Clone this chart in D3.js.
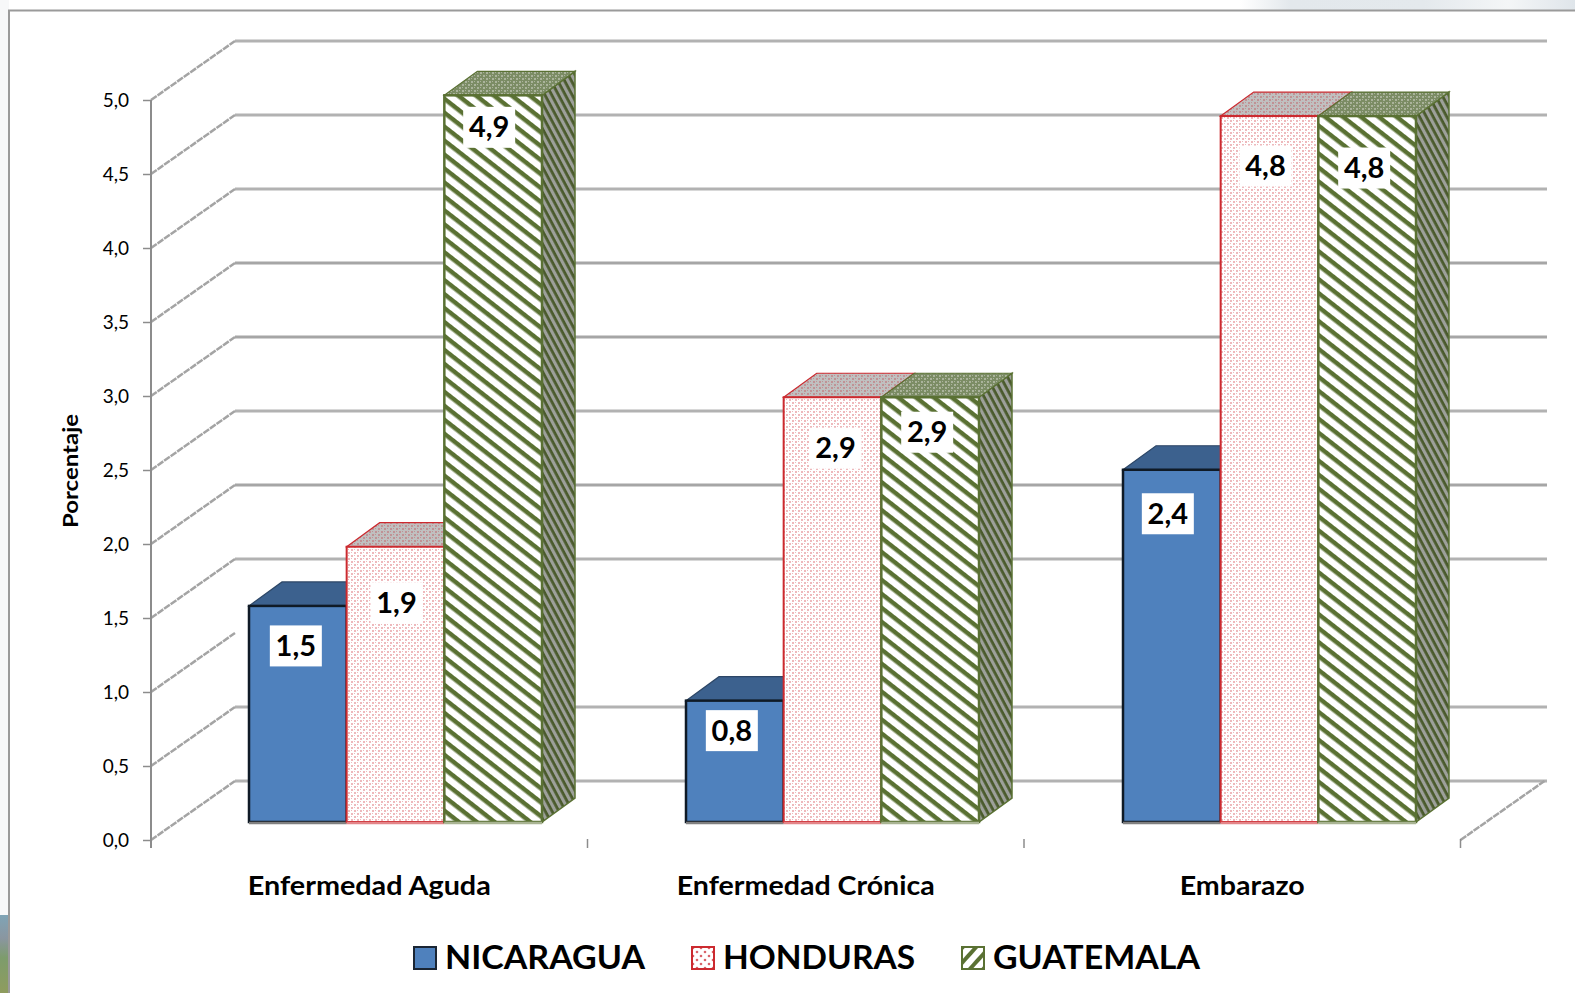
<!DOCTYPE html>
<html><head><meta charset="utf-8">
<script src="https://cdn.jsdelivr.net/npm/d3@7/dist/d3.min.js"></script>
<style>html,body{margin:0;background:#fff;overflow:hidden}svg{display:block}text{font-family:Lato,"Open Sans",sans-serif;fill:#000}</style>
</head><body><script>
const categories = ["Enfermedad Aguda","Enfermedad Crónica","Embarazo"];
const seriesNames = ["NICARAGUA","HONDURAS","GUATEMALA"];
const nicaragua = [1.46,0.82,2.38];
const honduras = [1.86,2.87,4.77];
const guatemala = [4.91,2.87,4.77];
const yTicks = [0,0.5,1,1.5,2,2.5,3,3.5,4,4.5,5];
const wallLevels = [0,0.5,1.5,2,2.5,3,3.5,4,4.5,5];
const axisTitle = "Porcentaje";

const W=1575,H=993;
const svg=d3.select("body").append("svg").attr("width",W).attr("height",H);
const defs=svg.append("defs");

function dots(id,bg,dot,op){
  const p=defs.append("pattern").attr("id",id).attr("patternUnits","userSpaceOnUse").attr("width",6).attr("height",6);
  p.append("rect").attr("width",6).attr("height",6).attr("fill",bg);
  [[0,0],[3,3]].forEach(([a,b])=>p.append("rect").attr("x",a).attr("y",b).attr("width",2).attr("height",2).attr("fill",dot).attr("opacity",op));
  [[3,0],[0,3]].forEach(([a,b])=>p.append("rect").attr("x",a).attr("y",b).attr("width",1).attr("height",1).attr("fill",dot).attr("opacity",op));
}
dots("redFace","#fff","#d9646a",.45);
dots("redTop","#c0c0c0","#c0636a",.5);
function stripes(id,bg,fg,size,w,skew){
  const p=defs.append("pattern").attr("id",id).attr("patternUnits","userSpaceOnUse").attr("width",size).attr("height",size)
    .attr("patternTransform",`rotate(${skew})`);
  p.append("rect").attr("width",size).attr("height",size).attr("fill",bg);
  p.append("rect").attr("width",size).attr("height",w).attr("fill",fg);
}
stripes("greenFace","#fff","#5a7133",11,4.5,38);
stripes("greenSide","#9da09a","#4a5a2c",6,2.8,62);
dots("greenTop","#7b8c64","#b9c0ad",.75);
stripes("greenSwatch","#fff","#5a7133",10,4,-48);
const rp=defs.append("pattern").attr("id","redSwatch").attr("patternUnits","userSpaceOnUse").attr("width",8).attr("height",8);
rp.append("rect").attr("width",8).attr("height",8).attr("fill","#fff");
rp.append("circle").attr("cx",2).attr("cy",2).attr("r",1.3).attr("fill","#d9646a");
rp.append("circle").attr("cx",6).attr("cy",6).attr("r",1.3).attr("fill","#d9646a");
const bgG=defs.append("linearGradient").attr("id","sky").attr("x1",0).attr("x2",1);
[[0,"#ffffff"],[.15,"#e3e8ec"],[.55,"#e4e9ed"],[.8,"#f4f6f7"],[1,"#dfe5ea"]].forEach(([o,c])=>bgG.append("stop").attr("offset",o).attr("stop-color",c));
const ph=defs.append("linearGradient").attr("id","photo").attr("x1",0).attr("x2",0).attr("y1",0).attr("y2",1);
[[0,"#7fa4b6"],[.3,"#8a96a0"],[.55,"#7d9c6c"],[1,"#8f9c5e"]].forEach(([o,c])=>ph.append("stop").attr("offset",o).attr("stop-color",c));

// backdrop behind the chart frame
svg.append("rect").attr("x",1240).attr("y",0).attr("width",335).attr("height",10).attr("fill","url(#sky)");
svg.append("rect").attr("x",0).attr("y",0).attr("width",9).attr("height",915).attr("fill","#f7f8f9");
svg.append("rect").attr("x",0).attr("y",915).attr("width",9).attr("height",78).attr("fill","url(#photo)");
svg.append("path").attr("d",`M9 ${H}V10.5H${W}`).attr("fill","none").attr("stroke","#9a9a9a").attr("stroke-width",2);

// scales
const axisX=151, rightX=1460.5, y0=840, y5=100;
const depthX=84, depthY=-59;
const y=d3.scaleLinear().domain([0,5]).range([y0,y5]);
const band=d3.scaleBand().domain(categories).range([axisX,rightX]);
const barBase=822;
const dpx=33, dpy=-24;
const groups=d3.scaleBand().domain(categories).range([249,249+3*437]);
const sub=d3.scaleBand().domain(seriesNames).range([0,293]);
const hgt=v=>y0-y(v);

// walls
const wall=svg.append("g");
wall.selectAll("line.grid").data(wallLevels).join("line").attr("class","grid")
  .attr("x1",axisX+depthX).attr("x2",rightX+depthX+2.5)
  .attr("y1",d=>y(d)+depthY).attr("y2",d=>y(d)+depthY)
  .attr("stroke",d=>[2,3,3.5].includes(d)?"#a6a6a6":"#b2b2b2").attr("stroke-width",3);
wall.selectAll("line.side").data(yTicks).join("line").attr("class","side")
  .attr("x1",axisX).attr("y1",d=>y(d)).attr("x2",axisX+depthX).attr("y2",d=>y(d)+depthY)
  .attr("stroke","#a4a4a4").attr("stroke-width",2.5).attr("stroke-dasharray","7 1");
wall.append("line").attr("x1",rightX).attr("y1",y0).attr("x2",rightX+depthX).attr("y2",y0+depthY)
  .attr("stroke","#a4a4a4").attr("stroke-width",2.5).attr("stroke-dasharray","7 1");

// axes
const fmt=d=>d3.format(".1f")(d).replace(".",",");
const axY=svg.append("g").attr("transform",`translate(${axisX},0)`)
  .call(d3.axisLeft(y).tickValues(yTicks).tickFormat(fmt).tickSize(8).tickPadding(14));
axY.select(".domain").attr("stroke","#8c8c8c").attr("stroke-width",2).attr("d",`M0,${y5}V${y0+8}`);
axY.selectAll(".tick line").attr("stroke","#8c8c8c").attr("stroke-width",1.5);
axY.selectAll("text").style("font-family","Lato").style("font-size","19px");
svg.append("g").selectAll("line").data([...categories.slice(1),null]).join("line")
  .attr("x1",d=>d?band(d):rightX).attr("x2",d=>d?band(d):rightX).attr("y1",y0-1).attr("y2",y0+8)
  .attr("stroke","#8c8c8c").attr("stroke-width",1.5);

svg.append("text").attr("transform","translate(78,471) rotate(-90)").attr("text-anchor","middle")
  .attr("font-weight",700).attr("font-size",21).attr("textLength",114).attr("lengthAdjust","spacingAndGlyphs").text(axisTitle);

svg.append("g").selectAll("text").data(categories).join("text")
  .attr("x",d=>band(d)+band.bandwidth()/2).attr("y",895).attr("text-anchor","middle")
  .attr("font-weight",700).attr("font-size",26)
  .attr("textLength",(d,i)=>[243,258,125][i]).attr("lengthAdjust","spacingAndGlyphs").text(d=>d);

// bars
const styles={
 NICARAGUA:{face:"#4f81bd",top:"#3c618e",side:"#3c618e",stroke:"#0f1a26",sw:2.5},
 HONDURAS:{face:"url(#redFace)",top:"url(#redTop)",side:"url(#redTop)",stroke:"#cc2a2f",sw:2},
 GUATEMALA:{face:"url(#greenFace)",top:"url(#greenTop)",side:"url(#greenSide)",stroke:"#5a7133",sw:2.5}
};
const seriesValues={NICARAGUA:nicaragua,HONDURAS:honduras,GUATEMALA:guatemala};
const bars=[];
categories.forEach((c,ci)=>seriesNames.forEach(s=>bars.push({c,ci,s,v:seriesValues[s][ci]})));
const gb=svg.append("g");
const gr=gb.selectAll("g").data(bars).join("g");
gr.each(function(d){
  const g=d3.select(this),st=styles[d.s];
  const x=groups(d.c)+sub(d.s),w=sub.bandwidth(),t=barBase-hgt(d.v),b=barBase;
  const last=d.s==="GUATEMALA";
  if(last){
    g.append("path").attr("d",`M${x+w} ${t}l${dpx} ${dpy}V${b+dpy}L${x+w} ${b}Z`)
     .attr("fill",st.side).attr("stroke",st.stroke).attr("stroke-width",1.5);
  }
  g.append("path").attr("d",`M${x} ${t}l${dpx} ${dpy}h${w}l${-dpx} ${-dpy}Z`)
   .attr("fill",st.top).attr("stroke",d.s==="NICARAGUA"?"#2c4666":st.stroke).attr("stroke-width",1.2);
  g.append("rect").attr("x",x).attr("y",t).attr("width",w).attr("height",b-t)
   .attr("fill",st.face).attr("stroke",st.stroke).attr("stroke-width",st.sw);
  g.append("line").attr("x1",x).attr("x2",x+w).attr("y1",b+1).attr("y2",b+1).attr("stroke",d.s==="NICARAGUA"?"#808080":d.s==="HONDURAS"?"#e38589":"#a9b493").attr("stroke-width",2.5);
});

// value labels: manual drop under each bar's top, as placed on the chart
const labelDrop=[40,56,32,30,51,35,44,50,52];
const labelDx=[-2,1,-4,-3,3,-3,-4,-4,-3];
const lab=svg.append("g").selectAll("g").data(bars).join("g")
  .attr("transform",(d,i)=>`translate(${groups(d.c)+sub(d.s)+sub.bandwidth()/2+labelDx[i]},${barBase-hgt(d.v)+labelDrop[i]})`);
lab.append("rect").attr("x",-26).attr("y",-20.5).attr("width",52).attr("height",41).attr("fill","#fff");
lab.append("text").attr("text-anchor","middle").attr("y",10).attr("font-weight",700).attr("font-size",29).text(d=>fmt(d.v));

// legend
const lx=[413,691,961], ltw=[200,192,207];
const lg=svg.append("g").selectAll("g").data(seriesNames).join("g").attr("transform",(d,i)=>`translate(${lx[i]},946)`);
lg.append("rect").attr("x",1).attr("y",1).attr("width",22).attr("height",22)
  .attr("fill",d=>d==="NICARAGUA"?"#4f81bd":d==="HONDURAS"?"url(#redSwatch)":"url(#greenSwatch)")
  .attr("stroke",d=>d==="NICARAGUA"?"#1a2533":d==="HONDURAS"?"#cc2a2f":"#5a7133").attr("stroke-width",2);
lg.append("text").attr("x",32).attr("y",23).attr("font-weight",700).attr("font-size",33)
  .attr("textLength",(d,i)=>ltw[i]).attr("lengthAdjust","spacingAndGlyphs").text(d=>d);
</script></body></html>
